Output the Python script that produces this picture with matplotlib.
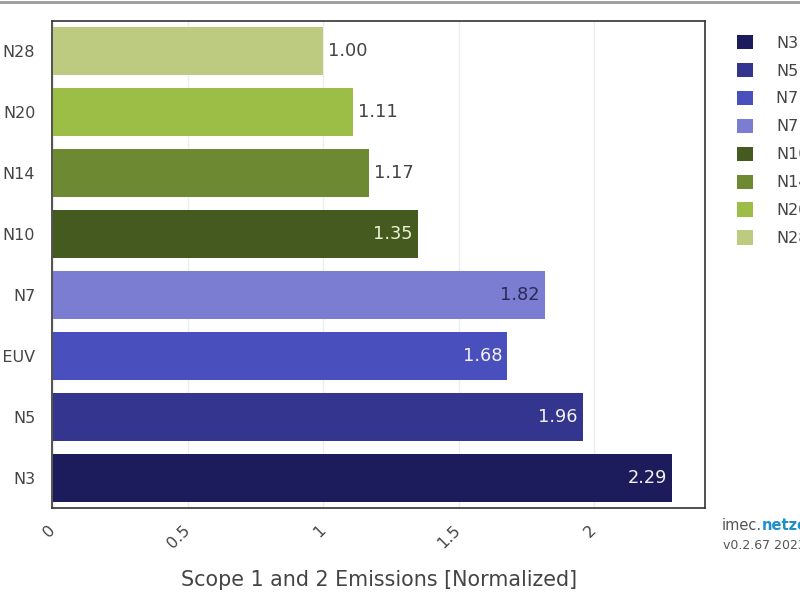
import matplotlib
matplotlib.use("Agg")
import matplotlib.pyplot as plt
from matplotlib.patches import Patch
from matplotlib.lines import Line2D

categories = ["N3", "N5", "N7 EUV", "N7", "N10", "N14", "N20", "N28"]
values = [2.29, 1.96, 1.68, 1.82, 1.35, 1.17, 1.11, 1.00]
colors = ["#1c1c5c", "#33358e", "#4a4fbe", "#7b7dd2", "#445a1e", "#6d8a32", "#9cbd46", "#bccb7f"]
inside = [True, True, True, True, True, False, False, False]
text_colors = ["#f2f2f2", "#f2f2f2", "#f2f2f2", "#2a2a55", "#eef2d8", "#444444", "#444444", "#444444"]
xticks = [0, 0.5, 1, 1.5, 2]
xtick_labels = ["0", "0.5", "1", "1.5", "2"]

fig = plt.figure(figsize=(8, 6), dpi=100)
ax = fig.add_axes([52/800, 1-508/600, (705-52)/800, (508-21)/600])

ypos = list(range(len(categories)))
for y, v, c, lab in zip(ypos, values, colors, categories):
    ax.barh(y, v, height=0.79, color=c, label=lab, zorder=3)

for y, v, ins, tc in zip(ypos, values, inside, text_colors):
    if ins:
        ax.annotate(f"{v:.2f}", (v, y), xytext=(-5, 0), textcoords="offset pixels",
                    ha="right", va="center", color=tc, fontsize=12.8, zorder=4)
    else:
        ax.annotate(f"{v:.2f}", (v, y), xytext=(5, 0), textcoords="offset pixels",
                    ha="left", va="center", color=tc, fontsize=12.8, zorder=4)

ax.set_xlim(-0.004, 2.412)
ax.set_ylim(-0.5, 7.5)
ax.set_yticks(ypos)
ax.set_yticklabels(categories, fontsize=11.5, color="#444444")
ax.set_xticks(xticks)
ax.set_xticklabels(xtick_labels, fontsize=11.5, color="#444444", rotation=45,
                   ha="right", va="center", rotation_mode="anchor")
ax.tick_params(axis="y", length=0, pad=12)
ax.tick_params(axis="x", length=0, pad=14)
ax.grid(axis="x", color="#ececec", lw=1, zorder=0)
for s in ax.spines.values():
    s.set_color("#333333")
    s.set_linewidth(1.2)

fig.text(379/800, 1-580/600, "Scope 1 and 2 Emissions [Normalized]", ha="center", va="center",
         fontsize=14.9, color="#444444")

handles = [Patch(facecolor=c, edgecolor="none", label=l) for c, l in zip(colors, categories)]
fig.legend(handles=handles, loc="upper left", bbox_to_anchor=(737/800, 1-35/600),
           frameon=False, handlelength=1.0, handleheight=1.0, handletextpad=1.45,
           labelspacing=0.77, fontsize=11.5, labelcolor="#444444", borderaxespad=0, borderpad=0)

t1 = fig.text(722/800, 1-530/600, "imec.", fontsize=10.5, color="#555555", va="baseline")
ax.annotate("netzero", xy=(1, 0), xycoords=t1, va="bottom", ha="left",
            fontsize=10.5, color="#1e8fcc", fontweight="bold", annotation_clip=False)
fig.text(723/800, 1-549/600, "v0.2.67 2023", fontsize=9, color="#555555", va="baseline")

fig.add_artist(Line2D([0, 1], [0.997, 0.997], transform=fig.transFigure, color="#9a9a9a", lw=2))

fig.savefig("out.png", dpi=100)
